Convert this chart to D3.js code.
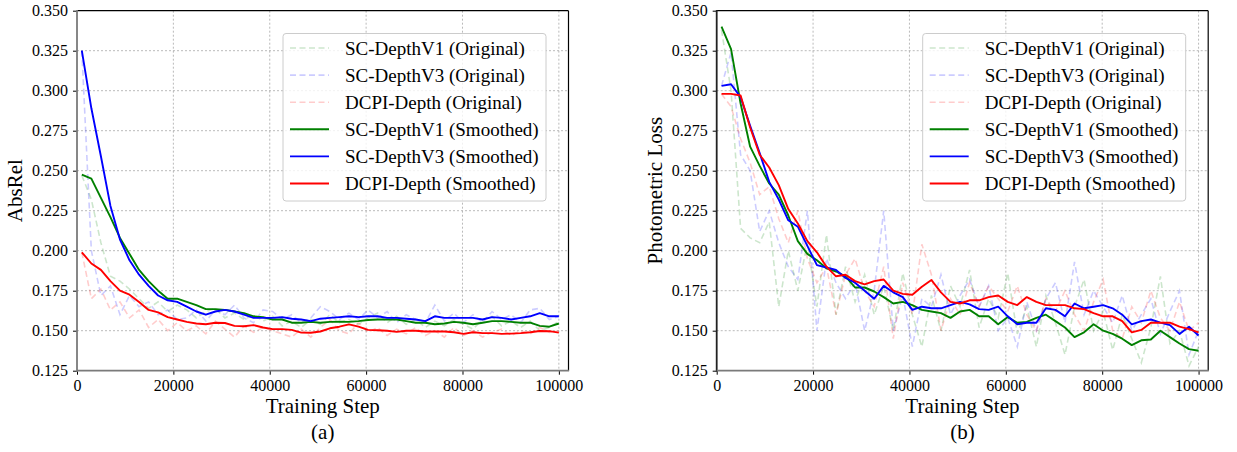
<!DOCTYPE html>
<html>
<head>
<meta charset="utf-8">
<script src="https://cdn.jsdelivr.net/npm/d3@7"></script>
<style>
  body { margin: 0; background: #fff; }
  svg { display: block; font-family: "Liberation Serif", "Times New Roman", serif; }
</style>
</head>
<body>
<div id="chart"></div>
<script>
// training steps shared by every series
const steps = d3.range(51).map(i => 1000 + i * 1980);
const xTicks = [0, 20000, 40000, 60000, 80000, 100000];
const yTicks = [0.125, 0.150, 0.175, 0.200, 0.225, 0.250, 0.275, 0.300, 0.325, 0.350];

// (a) AbsRel
const absV1Orig = [0.247, 0.232, 0.205, 0.184, 0.181, 0.176, 0.170, 0.164, 0.168, 0.162, 0.166, 0.163, 0.158, 0.162, 0.164, 0.158, 0.161, 0.157, 0.160, 0.156, 0.159, 0.153, 0.156, 0.152, 0.157, 0.154, 0.160, 0.155, 0.157, 0.154, 0.158, 0.161, 0.155, 0.159, 0.154, 0.157, 0.152, 0.156, 0.153, 0.157, 0.154, 0.151, 0.157, 0.159, 0.153, 0.156, 0.152, 0.156, 0.150, 0.152, 0.156];
const absV3Orig = [0.325, 0.200, 0.172, 0.178, 0.160, 0.172, 0.165, 0.168, 0.160, 0.163, 0.157, 0.158, 0.163, 0.156, 0.163, 0.160, 0.166, 0.158, 0.155, 0.163, 0.162, 0.157, 0.160, 0.155, 0.158, 0.165, 0.162, 0.157, 0.161, 0.157, 0.163, 0.158, 0.162, 0.155, 0.160, 0.157, 0.155, 0.166, 0.156, 0.161, 0.155, 0.160, 0.155, 0.162, 0.157, 0.160, 0.155, 0.163, 0.164, 0.157, 0.159];
const absDcOrig = [0.199, 0.170, 0.176, 0.163, 0.168, 0.158, 0.163, 0.152, 0.157, 0.150, 0.155, 0.150, 0.153, 0.148, 0.156, 0.151, 0.146, 0.153, 0.149, 0.152, 0.150, 0.148, 0.146, 0.151, 0.146, 0.152, 0.157, 0.150, 0.148, 0.155, 0.149, 0.152, 0.147, 0.151, 0.148, 0.152, 0.147, 0.150, 0.146, 0.152, 0.147, 0.150, 0.146, 0.149, 0.151, 0.147, 0.150, 0.148, 0.152, 0.149, 0.150];
const absV1Smooth = [0.2475, 0.245, 0.233, 0.221, 0.208, 0.198, 0.188, 0.181, 0.175, 0.170, 0.170, 0.168, 0.166, 0.1635, 0.1635, 0.163, 0.162, 0.161, 0.159, 0.1585, 0.157, 0.157, 0.155, 0.155, 0.1555, 0.155, 0.1555, 0.1557, 0.1555, 0.156, 0.1567, 0.157, 0.157, 0.157, 0.156, 0.155, 0.155, 0.154, 0.1545, 0.1555, 0.155, 0.154, 0.155, 0.156, 0.156, 0.1555, 0.155, 0.155, 0.153, 0.1525, 0.1545];
const absV3Smooth = [0.325, 0.289, 0.259, 0.228, 0.207, 0.194, 0.185, 0.178, 0.172, 0.169, 0.168, 0.165, 0.162, 0.160, 0.162, 0.163, 0.162, 0.160, 0.158, 0.158, 0.158, 0.1585, 0.1575, 0.157, 0.156, 0.1575, 0.158, 0.1585, 0.159, 0.1585, 0.159, 0.159, 0.158, 0.158, 0.1575, 0.157, 0.156, 0.159, 0.158, 0.158, 0.158, 0.158, 0.157, 0.1585, 0.158, 0.157, 0.158, 0.159, 0.161, 0.159, 0.159];
const absDcSmooth = [0.199, 0.192, 0.188, 0.181, 0.175, 0.1725, 0.168, 0.163, 0.1615, 0.1585, 0.157, 0.1555, 0.1545, 0.154, 0.155, 0.1548, 0.153, 0.1528, 0.1535, 0.152, 0.151, 0.151, 0.1505, 0.1488, 0.1487, 0.1495, 0.1515, 0.1525, 0.154, 0.1525, 0.1505, 0.1503, 0.150, 0.1493, 0.150, 0.150, 0.1495, 0.1495, 0.1495, 0.149, 0.148, 0.149, 0.1485, 0.1485, 0.148, 0.1482, 0.1485, 0.149, 0.1498, 0.1497, 0.1488];

// (b) Photometric Loss
const phoV1Orig = [0.338, 0.300, 0.214, 0.208, 0.205, 0.218, 0.165, 0.200, 0.175, 0.205, 0.165, 0.210, 0.160, 0.190, 0.168, 0.185, 0.160, 0.178, 0.150, 0.186, 0.160, 0.140, 0.172, 0.150, 0.178, 0.165, 0.188, 0.152, 0.170, 0.158, 0.186, 0.148, 0.165, 0.140, 0.172, 0.155, 0.135, 0.165, 0.182, 0.150, 0.162, 0.138, 0.160, 0.145, 0.130, 0.152, 0.184, 0.142, 0.150, 0.128, 0.140];
const phoV3Orig = [0.303, 0.324, 0.260, 0.250, 0.212, 0.225, 0.205, 0.190, 0.182, 0.225, 0.150, 0.195, 0.180, 0.170, 0.180, 0.150, 0.175, 0.225, 0.150, 0.172, 0.140, 0.170, 0.165, 0.185, 0.160, 0.172, 0.182, 0.165, 0.178, 0.150, 0.158, 0.140, 0.168, 0.150, 0.170, 0.180, 0.155, 0.193, 0.160, 0.175, 0.165, 0.155, 0.172, 0.150, 0.160, 0.170, 0.148, 0.162, 0.175, 0.135, 0.150];
const phoDcOrig = [0.298, 0.290, 0.270, 0.255, 0.235, 0.240, 0.220, 0.205, 0.225, 0.195, 0.180, 0.190, 0.160, 0.185, 0.195, 0.175, 0.165, 0.190, 0.145, 0.180, 0.160, 0.204, 0.185, 0.150, 0.170, 0.160, 0.180, 0.165, 0.178, 0.170, 0.162, 0.178, 0.160, 0.150, 0.170, 0.162, 0.175, 0.160, 0.150, 0.168, 0.182, 0.150, 0.145, 0.165, 0.155, 0.175, 0.158, 0.150, 0.168, 0.150, 0.155];
const phoV1Smooth = [0.340, 0.326, 0.292, 0.265, 0.253, 0.242, 0.235, 0.222, 0.206, 0.198, 0.194, 0.189, 0.187, 0.184, 0.177, 0.177, 0.1745, 0.171, 0.167, 0.168, 0.166, 0.163, 0.162, 0.161, 0.158, 0.162, 0.163, 0.159, 0.159, 0.154, 0.1585, 0.155, 0.1555, 0.158, 0.160, 0.156, 0.152, 0.146, 0.149, 0.154, 0.150, 0.148, 0.145, 0.141, 0.144, 0.1445, 0.150, 0.146, 0.142, 0.1385, 0.1375];
const phoV3Smooth = [0.303, 0.304, 0.296, 0.278, 0.261, 0.243, 0.232, 0.219, 0.215, 0.203, 0.191, 0.1895, 0.188, 0.183, 0.180, 0.175, 0.170, 0.178, 0.174, 0.171, 0.163, 0.165, 0.164, 0.164, 0.166, 0.168, 0.1665, 0.1635, 0.163, 0.165, 0.159, 0.154, 0.155, 0.155, 0.164, 0.163, 0.159, 0.167, 0.164, 0.165, 0.166, 0.164, 0.160, 0.154, 0.156, 0.157, 0.155, 0.1535, 0.148, 0.1525, 0.147];
const phoDcSmooth = [0.298, 0.298, 0.297, 0.277, 0.260, 0.252, 0.241, 0.226, 0.217, 0.206, 0.199, 0.190, 0.184, 0.185, 0.181, 0.179, 0.181, 0.182, 0.175, 0.173, 0.1725, 0.1775, 0.1817, 0.174, 0.168, 0.167, 0.169, 0.169, 0.171, 0.172, 0.168, 0.166, 0.171, 0.168, 0.166, 0.166, 0.166, 0.164, 0.1635, 0.161, 0.159, 0.159, 0.156, 0.149, 0.1505, 0.155, 0.155, 0.155, 0.1525, 0.151, 0.149];

const names = ["SC-DepthV1", "SC-DepthV3", "DCPI-Depth"];
const colors = ["#008000", "#0000ff", "#ff0000"];

const panels = [
  { left: 77, ylabel: "AbsRel", tag: "(a)", leftSpine: "#7a7a7a",
    orig: [absV1Orig, absV3Orig, absDcOrig], smooth: [absV1Smooth, absV3Smooth, absDcSmooth] },
  { left: 716.7, ylabel: "Photometric Loss", tag: "(b)", leftSpine: "#222",
    orig: [phoV1Orig, phoV3Orig, phoDcOrig], smooth: [phoV1Smooth, phoV3Smooth, phoDcSmooth] }
];

const width = 1237, height = 452;
const plotW = 491.5, plotTop = 10.7, plotBottom = 370.7;

const svg = d3.select("#chart").append("svg")
  .attr("width", width)
  .attr("height", height);

panels.forEach((p, pi) => {
  const x = d3.scaleLinear().domain([0, 102000]).range([p.left, p.left + plotW]);
  const y = d3.scaleLinear().domain([0.125, 0.35]).range([plotBottom, plotTop]);
  const g = svg.append("g");

  // clip
  const clipId = "clip" + pi;
  svg.append("clipPath").attr("id", clipId)
    .append("rect")
    .attr("x", p.left).attr("y", plotTop)
    .attr("width", plotW).attr("height", plotBottom - plotTop);

  // grid
  g.selectAll(".gx").data(xTicks.slice(1)).enter().append("line")
    .attr("x1", d => x(d)).attr("x2", d => x(d))
    .attr("y1", plotTop).attr("y2", plotBottom)
    .attr("stroke", "#a8a8a8").attr("stroke-width", 0.8).attr("stroke-dasharray", "2,2");
  g.selectAll(".gy").data(yTicks.slice(1, -1)).enter().append("line")
    .attr("x1", p.left).attr("x2", p.left + plotW)
    .attr("y1", d => y(d)).attr("y2", d => y(d))
    .attr("stroke", "#a8a8a8").attr("stroke-width", 0.8).attr("stroke-dasharray", "2,2");

  const line = d3.line().x((d, i) => x(steps[i])).y(d => y(d));
  const lines = g.append("g").attr("clip-path", `url(#${clipId})`);

  // original (faded dashed)
  p.orig.forEach((vals, k) => {
    lines.append("path")
      .datum(vals)
      .attr("d", line)
      .attr("fill", "none")
      .attr("stroke", colors[k])
      .attr("stroke-opacity", 0.2)
      .attr("stroke-width", 1.6)
      .attr("stroke-dasharray", "6,3.5");
  });
  // smoothed
  p.smooth.forEach((vals, k) => {
    lines.append("path")
      .datum(vals)
      .attr("d", line)
      .attr("fill", "none")
      .attr("stroke", colors[k])
      .attr("stroke-width", 1.9)
      .attr("stroke-linejoin", "round");
  });

  // axes
  const xAxis = g.append("g")
    .attr("transform", `translate(0,${plotBottom})`)
    .call(d3.axisBottom(x).tickValues(xTicks).tickFormat(d3.format("d")).tickSize(4).tickPadding(5));
  const yAxis = g.append("g")
    .attr("transform", `translate(${p.left},0)`)
    .call(d3.axisLeft(y).tickValues(yTicks).tickFormat(d3.format(".3f")).tickSize(4).tickPadding(5));
  [xAxis, yAxis].forEach(a => {
    a.select(".domain").remove();
    a.selectAll("text").style("font-size", "16px").style("font-family", "Liberation Serif").attr("fill", "#000");
    a.selectAll("line").attr("stroke", "#000");
  });

  // spines
  g.append("line").attr("x1", p.left).attr("x2", p.left + plotW).attr("y1", plotTop).attr("y2", plotTop)
    .attr("stroke", "#000").attr("stroke-width", 1.2);
  g.append("line").attr("x1", p.left + plotW).attr("x2", p.left + plotW).attr("y1", plotTop).attr("y2", plotBottom)
    .attr("stroke", "#000").attr("stroke-width", 1.2);
  g.append("line").attr("x1", p.left).attr("x2", p.left).attr("y1", plotTop - 0.6).attr("y2", plotBottom + 1)
    .attr("stroke", p.leftSpine).attr("stroke-width", 1.8);
  g.append("line").attr("x1", p.left).attr("x2", p.left + plotW + 0.6).attr("y1", plotBottom).attr("y2", plotBottom)
    .attr("stroke", "#7a7a7a").attr("stroke-width", 1.8);

  // labels
  g.append("text")
    .attr("x", p.left + plotW / 2).attr("y", 413)
    .attr("text-anchor", "middle").style("font-size", "21px")
    .text("Training Step");
  g.append("text")
    .attr("x", p.left + plotW / 2).attr("y", 439)
    .attr("text-anchor", "middle").style("font-size", "21px")
    .text(p.tag);
  g.append("text")
    .attr("transform", `translate(${p.left - 55},${(plotTop + plotBottom) / 2}) rotate(-90)`)
    .attr("text-anchor", "middle").style("font-size", "21px")
    .text(p.ylabel);

  // legend
  const lg = g.append("g").attr("transform", `translate(${p.left + 206},33.5)`);
  lg.append("rect")
    .attr("width", 263).attr("height", 167.5).attr("rx", 3)
    .attr("fill", "#fff").attr("fill-opacity", 0.8)
    .attr("stroke", "#cccccc").attr("stroke-width", 1);
  const entries = [];
  names.forEach((n, k) => entries.push({ label: n + " (Original)", color: colors[k], dashed: true }));
  names.forEach((n, k) => entries.push({ label: n + " (Smoothed)", color: colors[k], dashed: false }));
  entries.forEach((e, i) => {
    const yy = 14.5 + i * 27.1;
    lg.append("line")
      .attr("x1", 7).attr("x2", 46).attr("y1", yy).attr("y2", yy)
      .attr("stroke", e.color)
      .attr("stroke-opacity", e.dashed ? 0.2 : 1)
      .attr("stroke-width", e.dashed ? 1.6 : 1.9)
      .attr("stroke-dasharray", e.dashed ? "6,3.5" : null);
    lg.append("text")
      .attr("x", 62).attr("y", yy).attr("dy", "0.35em")
      .style("font-size", "19px")
      .text(e.label);
  });
});
</script>
</body>
</html>
